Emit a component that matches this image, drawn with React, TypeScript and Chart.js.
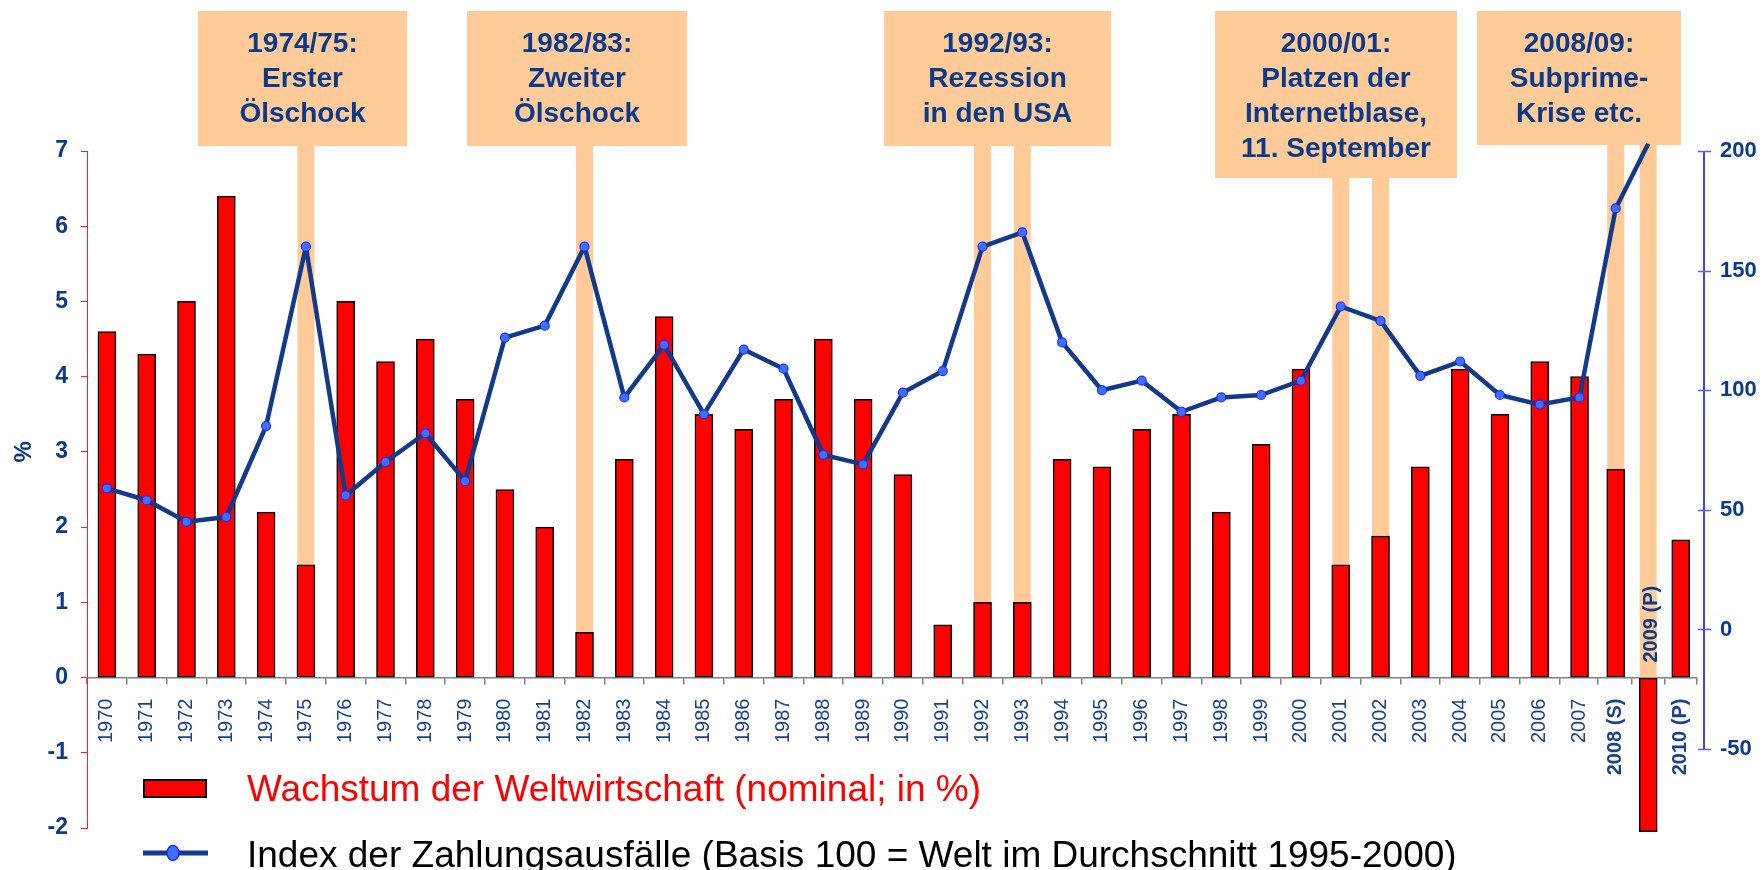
import React, { useEffect, useRef } from 'react';
import { Chart, registerables, CategoryScale } from 'chart.js';

// ---------------- data ----------------
const categories = [
  '1970', '1971', '1972', '1973', '1974', '1975', '1976', '1977', '1978', '1979',
  '1980', '1981', '1982', '1983', '1984', '1985', '1986', '1987', '1988', '1989',
  '1990', '1991', '1992', '1993', '1994', '1995', '1996', '1997', '1998', '1999',
  '2000', '2001', '2002', '2003', '2004', '2005', '2006', '2007',
  '2008 (S)', '2009 (P)', '2010 (P)',
];

const growthValues = [
  4.6, 4.3, 5.0, 6.4, 2.2, 1.5, 5.0, 4.2, 4.5, 3.7,
  2.5, 2.0, 0.6, 2.9, 4.8, 3.5, 3.3, 3.7, 4.5, 3.7,
  2.7, 0.7, 1.0, 1.0, 2.9, 2.8, 3.3, 3.5, 2.2, 3.1,
  4.1, 1.5, 1.88, 2.8, 4.1, 3.5, 4.2, 4.0,
  2.77, -2.05, 1.83,
];

const defaultIndexValues = [
  59, 54, 45, 47, 85, 160, 56, 70, 82, 62,
  122, 127, 160, 97, 119, 90, 117, 109, 73, 69,
  99, 108, 160, 166, 120, 100, 104, 91, 97, 98,
  104, 135, 129, 106, 112, 98, 94, 97,
  176, 203, null,
];

const leftAxisMin = -2;
const leftAxisMax = 7;
const rightAxisMin = -83;
const rightAxisMax = 200;
const rightTickValues = [-50, 0, 50, 100, 150, 200];

const legendLabels = [
  'Wachstum der Weltwirtschaft (nominal; in %)',
  'Index der Zahlungsausfälle (Basis 100 = Welt im Durchschnitt 1995-2000)',
];

const annotationTexts = [
  ['1974/75:', 'Erster', 'Ölschock'],
  ['1982/83:', 'Zweiter', 'Ölschock'],
  ['1992/93:', 'Rezession', 'in den USA'],
  ['2000/01:', 'Platzen der', 'Internetblase,', '11. September'],
  ['2008/09:', 'Subprime-', 'Krise etc.'],
];
const annotationCategories = [
  ['1975'],
  ['1982'],
  ['1992', '1993'],
  ['2001', '2002'],
  ['2008 (S)', '2009 (P)'],
];
const axisUnitLabel = '%';
const hiddenTickLabel = '2009 (P)';

// ---------------- layout / style ----------------
const FONT = '"Liberation Sans", Arial, Helvetica, sans-serif';
const AXIS_BLUE = '#0c3a8a';
const XLABEL_BLUE = '#17428f';
const BOX_FILL = '#ffcc99';
const LINE_COLOR = '#12398a';
const BOX_RECTS = [
  { x1: 198, x2: 407, y1: 11, y2: 146 },
  { x1: 467, x2: 687, y1: 11, y2: 146 },
  { x1: 884, x2: 1111, y1: 11, y2: 146 },
  { x1: 1215, x2: 1457, y1: 11, y2: 178 },
  { x1: 1477, x2: 1681, y1: 11, y2: 145 },
];
const STEM_W = 17;
// last three categories are drawn narrower in the original
const CATEGORY_WEIGHTS = categories.map((_, i) => (i >= 38 ? 0.817 : 1));

class WeightedCategoryScale extends CategoryScale {
  static id = 'weightedCategory';
  static defaults = CategoryScale.defaults;
  getPixelForValue(value: any) {
    if (typeof value !== 'number') value = (this as any).parse(value);
    if (value === null || value === undefined || Number.isNaN(value)) return NaN;
    const n = CATEGORY_WEIGHTS.length;
    const w = (i: number) => CATEGORY_WEIGHTS[i] ?? 1;
    let total = 0;
    for (let i = 0; i < n; i++) total += w(i);
    const pos = value + 0.5;
    let i0 = Math.floor(pos);
    if (i0 < 0) i0 = 0;
    if (i0 > n - 1) i0 = n - 1;
    let acc = 0;
    for (let i = 0; i < i0; i++) acc += w(i);
    acc += (pos - i0) * w(i0);
    return (this as any).getPixelForDecimal(acc / total);
  }
}

Chart.register(...registerables, WeightedCategoryScale as any);

const decorPlugin = {
  id: 'decor',
  beforeDatasetsDraw(chart: any) {
    const ctx = chart.ctx;
    const xs = chart.scales.x;
    const ys = chart.scales.y;
    const zeroY = ys.getPixelForValue(0);
    ctx.save();
    annotationCategories.forEach((cats, i) => {
      const r = BOX_RECTS[i];
      ctx.fillStyle = BOX_FILL;
      cats.forEach((c) => {
        const cx = xs.getPixelForValue(categories.indexOf(c));
        ctx.fillRect(cx - STEM_W / 2, r.y2, STEM_W, zeroY - r.y2);
      });
      ctx.fillRect(r.x1, r.y1, r.x2 - r.x1, r.y2 - r.y1);
      ctx.fillStyle = AXIS_BLUE;
      ctx.font = `bold 28px ${FONT}`;
      ctx.textAlign = 'center';
      ctx.textBaseline = 'alphabetic';
      annotationTexts[i].forEach((t, j) => {
        ctx.fillText(t, (r.x1 + r.x2) / 2, r.y1 + 41 + j * 35);
      });
    });
    ctx.restore();
  },
  afterDatasetsDraw(chart: any) {
    const ctx = chart.ctx;
    const xs = chart.scales.x;
    const ys = chart.scales.y;
    const y1 = chart.scales.y1;
    const area = chart.chartArea;
    ctx.save();
    // label of the negative bar, placed above the axis
    const hi = categories.indexOf(hiddenTickLabel);
    const hx = xs.getPixelForValue(hi);
    ctx.translate(hx + 3, ys.getPixelForValue(0) - 15);
    ctx.rotate(-Math.PI / 2);
    ctx.font = `bold 20px ${FONT}`;
    ctx.fillStyle = AXIS_BLUE;
    ctx.textAlign = 'left';
    ctx.textBaseline = 'middle';
    ctx.fillText(hiddenTickLabel, 0, 0);
    ctx.restore();

    // right axis line with crossing ticks
    ctx.save();
    const ax = area.right + 7;
    ctx.strokeStyle = '#0000ff';
    ctx.lineWidth = 1.5;
    ctx.beginPath();
    ctx.moveTo(ax, y1.getPixelForValue(rightTickValues[rightTickValues.length - 1]));
    ctx.lineTo(ax, y1.getPixelForValue(rightTickValues[0]));
    ctx.stroke();
    ctx.strokeStyle = '#5a5aff';
    rightTickValues.forEach((v) => {
      const py = Math.round(y1.getPixelForValue(v)) + 0.5;
      ctx.beginPath();
      ctx.moveTo(ax - 6, py);
      ctx.lineTo(ax + 7, py);
      ctx.stroke();
    });
    ctx.restore();

    // % title
    ctx.save();
    ctx.translate(24, ys.getPixelForValue(3));
    ctx.rotate(-Math.PI / 2);
    ctx.font = `bold 24px ${FONT}`;
    ctx.fillStyle = AXIS_BLUE;
    ctx.textAlign = 'center';
    ctx.textBaseline = 'middle';
    ctx.fillText(axisUnitLabel, 0, 0);
    ctx.restore();

    // legend
    ctx.save();
    ctx.fillStyle = '#000000';
    ctx.fillRect(143, 779, 64, 19);
    ctx.fillStyle = '#ff0000';
    ctx.fillRect(145, 781, 60, 15);
    ctx.font = `37px ${FONT}`;
    ctx.textAlign = 'left';
    ctx.textBaseline = 'alphabetic';
    ctx.fillText(legendLabels[0], 247, 801);
    ctx.strokeStyle = LINE_COLOR;
    ctx.lineWidth = 5;
    ctx.beginPath();
    ctx.moveTo(143, 853);
    ctx.lineTo(208, 853);
    ctx.stroke();
    ctx.beginPath();
    ctx.ellipse(173, 853, 6, 7.5, 0, 0, Math.PI * 2);
    ctx.fillStyle = '#3f6fff';
    ctx.fill();
    ctx.lineWidth = 1.5;
    ctx.strokeStyle = '#1a2cff';
    ctx.stroke();
    ctx.fillStyle = '#000000';
    ctx.fillText(legendLabels[1], 247, 867);
    ctx.restore();
  },
};

export default function App() {
  const ref = useRef<HTMLCanvasElement | null>(null);
  useEffect(() => {
    document.body.style.margin = '0';
    const canvas = ref.current!;
    const chart = new Chart(canvas, {
      type: 'bar',
      data: {
        labels: categories,
        datasets: [
          {
            type: 'line',
            label: legendLabels[1],
            data: defaultIndexValues,
            yAxisID: 'y1',
            xAxisID: 'x',
            borderColor: LINE_COLOR,
            borderWidth: 4.5,
            borderJoinStyle: 'round',
            pointRadius: 4.5,
            pointBackgroundColor: '#3f6fff',
            pointBorderColor: '#1a2cff',
            pointBorderWidth: 1.2,
            tension: 0,
            spanGaps: false,
            clip: false,
            order: 0,
          } as any,
          {
            type: 'bar',
            label: legendLabels[0],
            data: growthValues,
            yAxisID: 'y',
            xAxisID: 'x',
            backgroundColor: '#ff0000',
            borderColor: '#000000',
            borderWidth: 1.5,
            borderSkipped: false,
            barThickness: 18,
            clip: false,
            order: 1,
          } as any,
        ],
      },
      options: {
        responsive: false,
        animation: false,
        devicePixelRatio: 1,
        events: [],
        layout: { padding: { left: 0, right: 0, top: 151, bottom: 42 } },
        plugins: { legend: { display: false }, tooltip: { enabled: false } },
        scales: {
          x: {
            type: 'weightedCategory' as any,
            position: { y: 0 } as any,
            offset: true,
            grid: {
              display: true,
              offset: true,
              drawOnChartArea: false,
              drawTicks: true,
              tickLength: 6,
              color: '#808080',
              lineWidth: 1.5,
            },
            border: { display: true, color: '#808080', width: 1.5 },
            ticks: {
              autoSkip: false,
              minRotation: 90,
              maxRotation: 90,
              padding: 15,
              color: XLABEL_BLUE,
              font: (c: any) => ({
                family: FONT,
                size: 20,
                weight: c.index >= 38 ? 'bold' : 'normal',
              }),
              callback: (_v: any, i: number) => (categories[i] === hiddenTickLabel ? '' : categories[i]),
            },
          } as any,
          y: {
            type: 'linear',
            position: 'left',
            min: leftAxisMin,
            max: leftAxisMax,
            afterFit: (s: any) => { s.width = 87; },
            grid: {
              display: true,
              drawOnChartArea: false,
              drawTicks: true,
              tickLength: 6,
              color: '#ff2020',
              lineWidth: 1,
            },
            border: { display: true, color: '#ff2020', width: 1 },
            ticks: {
              stepSize: 1,
              padding: 13,
              color: AXIS_BLUE,
              font: { family: FONT, size: 23, weight: 'bold' },
            },
          },
          y1: {
            type: 'linear',
            position: 'right',
            min: rightAxisMin,
            max: rightAxisMax,
            afterFit: (s: any) => { s.width = 67; },
            afterBuildTicks: (s: any) => {
              s.ticks = rightTickValues.map((v) => ({ value: v }));
            },
            grid: { display: false, drawTicks: false, drawOnChartArea: false },
            border: { display: false },
            ticks: {
              padding: 23,
              color: AXIS_BLUE,
              font: { family: FONT, size: 22, weight: 'bold' },
            },
          },
        },
      },
      plugins: [decorPlugin],
    });
    return () => chart.destroy();
  }, []);
  return (
    <div style={{ width: 1764, height: 870 }}>
      <canvas ref={ref} width={1764} height={870} style={{ display: 'block' }} />
    </div>
  );
}
